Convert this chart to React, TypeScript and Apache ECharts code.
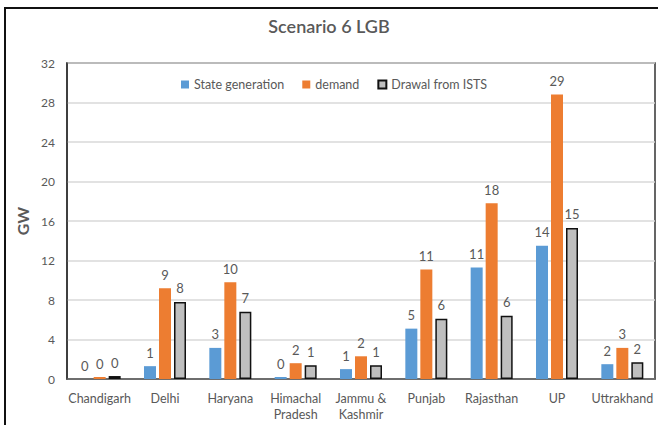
import React, { useEffect, useRef } from "react";
import * as echarts from "echarts";

const categories = ["Chandigarh", "Delhi", "Haryana", "Himachal\nPradesh", "Jammu &\nKashmir", "Punjab", "Rajasthan", "UP", "Uttrakhand"];
const stateGeneration = [0, 1.3, 3.15, 0.2, 1.0, 5.1, 11.3, 13.5, 1.5];
const demand = [0.2, 9.2, 9.8, 1.6, 2.3, 11.1, 17.8, 28.8, 3.15];
const drawalISTS = [0.3, 7.8, 6.8, 1.4, 1.4, 6.1, 6.4, 15.3, 1.7];
const yTicks = { min: 0, max: 32, interval: 4 };

const FONT = "Lato, 'Open Sans', sans-serif";
const TEXT = "#595959";

export default function App() {
  const ref = useRef<HTMLDivElement>(null);
  useEffect(() => {
    const chart = echarts.init(ref.current!, null, { renderer: "svg" });
    const label = {
      show: true,
      position: "top" as const,
      distance: 7,
      color: TEXT,
      fontSize: 13,
      fontFamily: FONT,
      formatter: (p: any) => String(Math.round(p.value)),
    };
    chart.setOption({
      animation: false,
      backgroundColor: "#fff",
      title: {
        text: "Scenario 6 LGB",
        left: "center",
        top: 12,
        textStyle: { color: TEXT, fontSize: 18, fontWeight: 600, fontFamily: FONT },
      },
      legend: {
        top: 73,
        left: 176,
        itemWidth: 8,
        itemHeight: 8,
        itemGap: 18,
        icon: "rect",
        textStyle: { color: TEXT, fontSize: 12.5, fontFamily: FONT },
        data: ["State generation", "demand", "Drawal from ISTS"],
      },
      grid: {
        left: 67,
        top: 63,
        right: 3,
        bottom: 46,
        show: true,
        borderColor: "#333",
        borderWidth: 1.5,
      },
      xAxis: {
        type: "category",
        data: categories,
        axisLine: { lineStyle: { color: "#555", width: 1.5 } },
        axisTick: { show: false },
        axisLabel: { color: TEXT, fontSize: 12.5, fontFamily: FONT, margin: 11, lineHeight: 16, interval: 0 },
      },
      yAxis: {
        type: "value",
        min: yTicks.min,
        max: yTicks.max,
        interval: yTicks.interval,
        name: "GW",
        nameLocation: "middle",
        nameGap: 31,
        nameTextStyle: { color: TEXT, fontSize: 16, fontWeight: "bold", fontFamily: FONT },
        axisLine: { show: true, lineStyle: { color: "#333", width: 1.5 } },
        axisLabel: { color: TEXT, fontSize: 12, fontFamily: FONT, margin: 12 },
        splitLine: { lineStyle: { color: "#d9d9d9", width: 1.5 } },
      },
      series: [
        {
          name: "State generation",
          type: "bar",
          data: stateGeneration,
          barWidth: 12,
          barGap: "25%",
          itemStyle: { color: "#5b9bd5" },
          label,
        },
        {
          name: "demand",
          type: "bar",
          data: demand,
          barWidth: 12,
          barGap: "25%",
          itemStyle: { color: "#ed7d31" },
          label,
        },
        {
          name: "Drawal from ISTS",
          type: "bar",
          data: drawalISTS,
          barWidth: 12,
          barGap: "25%",
          itemStyle: { color: "#bfbfbf", borderColor: "#111", borderWidth: 1.5 },
          label,
        },
      ],
      graphic: [
        {
          type: "rect",
          shape: { x: 5, y: 8, width: 700, height: 500 },
          style: { fill: "none", stroke: "#111", lineWidth: 2 },
          silent: true,
        },
      ],
    });
    return () => chart.dispose();
  }, []);
  return <div ref={ref} style={{ position: "absolute", left: 0, top: 0, width: 658, height: 425 }} />;
}
